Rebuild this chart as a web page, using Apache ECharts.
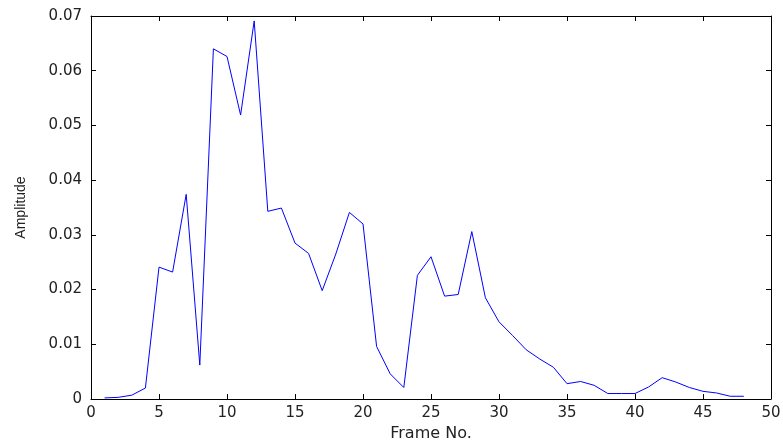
<!DOCTYPE html>
<html><head><meta charset="utf-8">
<script src="https://cdn.jsdelivr.net/npm/echarts@6/dist/echarts.min.js"></script>
<style>html,body{margin:0;padding:0;background:#fff}#c{width:783px;height:443px}</style>
</head><body><div id="c"></div>
<script>
const frames = [1,2,3,4,5,6,7,8,9,10,11,12,13,14,15,16,17,18,19,20,21,22,23,24,25,26,27,28,29,30,31,32,33,34,35,36,37,38,39,40,41,42,43,44,45,46,47,48];
const amplitude = [0.0002,0.0003,0.0007,0.002,0.0241,0.0232,0.0374,0.0062,0.064,0.0626,0.0519,0.0691,0.0343,0.0349,0.0285,0.0266,0.0198,0.0265,0.0341,0.032,0.0096,0.0046,0.0021,0.0226,0.026,0.0188,0.0191,0.0306,0.0185,0.0141,0.0116,0.009,0.0073,0.0058,0.0028,0.0032,0.0025,0.001,0.001,0.001,0.0022,0.0039,0.0031,0.0021,0.0014,0.0011,0.0005,0.0005];
const xTicks = [0,5,10,15,20,25,30,35,40,45,50];
const yTicks = ['0','0.01','0.02','0.03','0.04','0.05','0.06','0.07'];
const font = 'DejaVu Sans, sans-serif';
const chart = echarts.init(document.getElementById('c'));
const axLine = {show:true, onZero:false, lineStyle:{color:'#000', width:1}};
const tick = {show:true, inside:true, length:5, lineStyle:{color:'#000'}};
chart.setOption({
  animation:false,
  grid:{left:91, right:12, top:16, bottom:44, outerBoundsMode:'none', containLabel:false},
  xAxis:[{
    type:'value', min:0, max:50, interval:5,
    axisLine:axLine, axisTick:tick, splitLine:{show:false},
    axisLabel:{color:'#222', fontFamily:font, fontSize:15, margin:7},
    name:'Frame No.', nameLocation:'middle', nameGap:24,
    nameTextStyle:{color:'#222', fontFamily:font, fontSize:16}
  },{
    type:'value', position:'top', min:0, max:50, interval:5,
    axisLine:axLine, axisTick:tick, axisLabel:{show:false}, splitLine:{show:false}
  }],
  yAxis:[{
    type:'value', min:0, max:0.07, interval:0.01,
    axisLine:axLine, axisTick:tick, splitLine:{show:false},
    axisLabel:{color:'#222', fontFamily:font, fontSize:15, margin:9,
      formatter:(v)=>yTicks[Math.round(v*100)]},
    name:'Amplitude', nameLocation:'middle', nameGap:63, nameRotate:90,
    nameTextStyle:{color:'#222', fontFamily:'Liberation Sans, Arial, sans-serif', fontSize:14}
  },{
    type:'value', position:'right', min:0, max:0.07, interval:0.01,
    axisLine:axLine, axisTick:tick, axisLabel:{show:false}, splitLine:{show:false}
  }],
  series:[{
    type:'line', data:frames.map((f,i)=>[f, amplitude[i]]),
    showSymbol:false, lineStyle:{color:'#0000ff', width:1}, itemStyle:{color:'#0000ff'}
  }]
});
</script></body></html>
